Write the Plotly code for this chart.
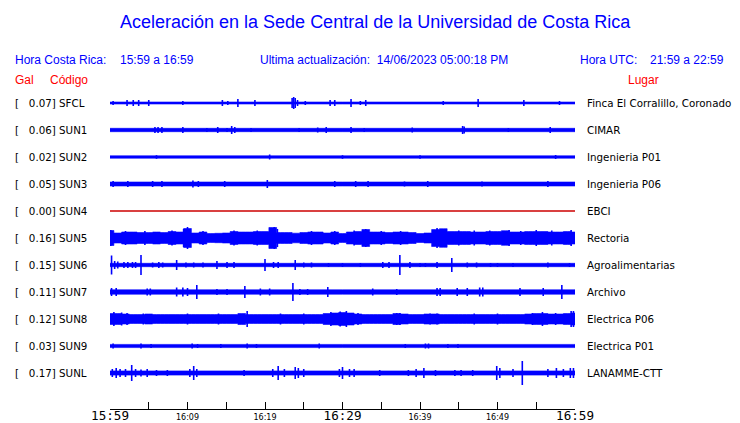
import plotly.graph_objects as go

# ---------------- data ----------------
STATIONS = ["SFCL", "SUN1", "SUN2", "SUN3", "SUN4", "SUN5",
            "SUN6", "SUN7", "SUN8", "SUN9", "SUNL"]
GAL = ["0.07", "0.06", "0.02", "0.05", "0.00", "0.16",
       "0.15", "0.11", "0.12", "0.03", "0.17"]
LUGAR = ["Finca El Corralillo, Coronado", "CIMAR", "Ingenieria P01",
         "Ingenieria P06", "EBCI", "Rectoria", "Agroalimentarias",
         "Archivo", "Electrica P06", "Electrica P01", "LANAMME-CTT"]

# minutes after 15:59 (0..60)
MINUTES = list(range(61))
TICK_MIN = list(range(0, 61, 5))
TICK_LABELS = ["15:59", "", "16:09", "", "16:19", "", "16:29",
               "", "16:39", "", "16:49", "", "16:59"]
BIG_LABELS = ["15:59", "16:29", "16:59"]

# background (noise) half-amplitude per station, relative counts
BASE_AMP = [1.0, 1.7, 1.2, 2.0, 0.0, None, 1.7, 2.2, None, 1.6, 2.1]

# per-minute envelope for the noisiest channels
ENV_SUN5 = [7.5, 5, 6, 6, 5.5, 5.5, 6, 5.5, 6.5, 6, 9.5, 5, 6, 4.5, 4.7, 5,
            6.5, 6, 6, 6.5, 6.5, 10.5, 5.5, 5.5, 4.8, 5.5, 6, 6, 5, 6, 4.5,
            6, 6.5, 8.5, 6, 6, 5.5, 6, 6, 5.5, 4.5, 5, 8.5, 9.3, 6.5, 6.5,
            6.5, 6, 6, 6.5, 6.5, 7.3, 6, 6, 6.5, 6.5, 6.5, 6, 6, 6.5, 6]
ENV_SUN8 = [5.5, 5.5, 5, 4.5, 4.5, 5, 4.5, 4.5, 4.5, 4.5, 4.5, 4.5, 4.5,
            4.5, 4.5, 4.5, 4.5, 5.5, 4.5, 4.5, 4.5, 4.5, 4.5, 4.5, 4.5, 4.5,
            4.5, 4.5, 5.5, 6, 6.5, 6, 5, 4.5, 4.5, 4.5, 4.5, 5.5, 5, 4.5,
            4.5, 5, 5, 4.5, 4.5, 4.5, 4.5, 4.5, 4.5, 4.5, 4.5, 4.5, 4.5,
            4.5, 5, 5.5, 5.5, 5, 5, 5.5, 6]

# spikes: (minute, half-amplitude)
SPK_SFCL = [(0.4, 2), (2.2, 3), (3.0, 3), (3.7, 3), (5.0, 3), (9.4, 2),
            (14.5, 3), (15.2, 2), (16.5, 4), (18.7, 3), (23.5, 5), (23.7, 6),
            (23.9, 5), (24.2, 3), (25.2, 2), (28.4, 3), (29.0, 3), (31.1, 4),
            (32.3, 2), (33.0, 3), (43.0, 2), (47.5, 4), (53.4, 3), (58.0, 2)]
SPK_SUN1 = [(5.8, 3), (6.2, 3), (6.7, 3), (9.4, 3), (12.5, 2), (13.9, 3),
            (15.1, 2), (15.7, 4), (16.1, 3), (18.2, 2), (24.4, 2), (26.8, 2.5),
            (27.9, 3), (31.1, 3), (32.8, 2), (39.0, 2.5), (45.5, 4),
            (45.7, 3.5), (51.4, 2), (56.8, 3)]
SPK_SUN2 = [(6.0, 1.8), (20.6, 2.5), (30.0, 1.8), (40.0, 1.8), (57.5, 2)]
SPK_SUN3 = [(0.4, 3), (2.3, 3), (5.5, 3), (6.7, 3), (10.7, 3.5), (11.4, 3),
            (14.8, 3), (20.3, 4), (29.0, 3), (31.7, 3), (33.3, 3), (38.0, 2.5),
            (41.0, 3), (48.0, 2.5), (56.5, 3)]
SPK_SUN4 = []
SPK_SUN5 = [(0.1, 8), (2.0, 7), (4.5, 7), (8.0, 7.5), (9.5, 9), (10.0, 11),
            (12.0, 7), (16.0, 7.5), (19.0, 7.5), (21.2, 11), (21.6, 9),
            (26.0, 7), (29.0, 7), (31.5, 7.5), (33.0, 9), (35.0, 7),
            (37.5, 7), (42.2, 10), (43.2, 9), (45.0, 7.5), (47.0, 7.5),
            (49.0, 7.5), (51.5, 8), (53.0, 7), (55.0, 8), (57.0, 7.5),
            (59.5, 8)]
SPK_SUN6 = [(0.2, 9.5), (0.6, 4), (1.0, 3.5), (1.8, 3), (2.3, 3), (2.9, 3),
            (3.3, 3), (4.0, 10), (5.5, 2.5), (6.3, 3), (6.8, 2.5), (8.6, 5),
            (9.8, 2.5), (10.8, 2.5), (12.0, 2.5), (13.8, 4), (15.1, 3),
            (16.0, 3), (20.0, 6), (21.1, 3), (21.7, 3), (23.9, 5), (25.0, 2.5),
            (26.0, 2.5), (28.2, 2), (30.0, 2), (32.3, 2), (35.2, 3), (36.0, 3),
            (37.4, 10), (38.7, 3), (40.0, 2), (40.7, 2), (42.2, 3), (44.1, 7),
            (46.1, 2.5), (47.3, 2.5), (49.1, 2), (50.0, 2), (52.0, 2),
            (56.5, 2.5), (59.3, 2)]
SPK_SUN7 = [(0.2, 4), (0.8, 4), (4.8, 3.5), (5.2, 3.5), (8.6, 4.5),
            (9.4, 4.5), (10.0, 4), (11.2, 7), (13.8, 3), (15.1, 3), (17.4, 6),
            (19.4, 3.5), (20.6, 3.5), (23.6, 9), (24.5, 3), (25.5, 3),
            (28.1, 5), (33.9, 3.5), (37.0, 3), (42.2, 4), (42.6, 4), (44.8, 4),
            (46.1, 4), (47.7, 4.5), (48.1, 4.5), (52.9, 4), (55.9, 4),
            (58.3, 7)]
SPK_SUN8 = [(0.5, 7), (1.5, 6.5), (2.2, 6), (4.3, 5.5), (10.0, 5.5),
            (14.0, 5.5), (17.7, 8), (22.0, 5.5), (25.0, 5.5), (28.5, 7),
            (29.7, 7.5), (30.5, 8), (32.0, 6), (37.0, 6), (37.4, 6),
            (41.3, 5.5), (42.2, 5.5), (47.0, 5.5), (50.0, 5.5), (54.5, 6),
            (55.8, 7), (57.5, 6), (59.5, 8), (59.8, 8)]
SPK_SUN9 = [(0.4, 2.5), (4.0, 2.5), (5.3, 2), (10.6, 2.5), (11.3, 2),
            (14.3, 2), (17.7, 2.5), (18.9, 2), (27.0, 2.5), (38.1, 2),
            (40.7, 2.5), (41.1, 2.5), (43.6, 2), (44.9, 2)]
SPK_SUNL = [(0.3, 4), (0.8, 5), (1.3, 4), (2.0, 4), (2.8, 8), (3.3, 4),
            (4.0, 3.5), (4.8, 4), (6.0, 3), (7.4, 3), (10.3, 4), (10.8, 7),
            (11.2, 4), (17.3, 3), (21.0, 4), (21.7, 7), (22.5, 4), (23.9, 6),
            (24.3, 5), (25.0, 4), (29.6, 4), (30.0, 6), (30.9, 4), (31.5, 4),
            (34.8, 3), (38.5, 3), (39.5, 4), (40.5, 5), (42.0, 3), (44.5, 3),
            (45.3, 3), (46.8, 3), (49.9, 7), (50.3, 5), (52.0, 4), (53.2, 12),
            (56.5, 4), (57.6, 5), (58.5, 4), (59.4, 5), (59.8, 5)]

ENVS = [None, None, None, None, None, ENV_SUN5, None, None, ENV_SUN8, None, None]
SPIKES = [SPK_SFCL, SPK_SUN1, SPK_SUN2, SPK_SUN3, SPK_SUN4, SPK_SUN5,
          SPK_SUN6, SPK_SUN7, SPK_SUN8, SPK_SUN9, SPK_SUNL]

# ---------------- drawing ----------------
BLUE = "#0000ff"
RED = "#ff0000"
AMP_SCALE = 1.0 / 27.0   # row units per count

fig = go.Figure()

for i, sta in enumerate(STATIONS):
    c = -i
    env = ENVS[i]
    if env is None:
        b = BASE_AMP[i]
        t = [MINUTES[0], MINUTES[-1]]
        env = [b, b]
    else:
        t = MINUTES
    if sta == "SUN4":
        fig.add_trace(go.Scatter(x=t, y=[c, c], mode="lines",
                                 line=dict(color="#cc0000", width=1.3),
                                 hoverinfo="skip", showlegend=False))
        continue
    up = [c + a * AMP_SCALE for a in env]
    lo = [c - a * AMP_SCALE for a in env]
    fig.add_trace(go.Scatter(x=t + t[::-1], y=up + lo[::-1], mode="lines",
                             fill="toself", fillcolor=BLUE,
                             line=dict(color=BLUE, width=0.6, shape="hvh"),
                             hoverinfo="skip", showlegend=False))
    xs, ys = [], []
    for (tm, a) in SPIKES[i]:
        xs += [tm, tm, None]
        ys += [c + a * AMP_SCALE, c - a * AMP_SCALE, None]
    if xs:
        fig.add_trace(go.Scatter(x=xs, y=ys, mode="lines",
                                 line=dict(color=BLUE, width=1.6),
                                 hoverinfo="skip", showlegend=False))

W, H = 740, 423
L, R, T, B = 110, 575, 90, 409


def px(x):
    return (x - L) / (R - L)


def py(y):
    return (B - y) / (B - T)


ann = []
HF = "Liberation Sans, Arial, sans-serif"
LF = "DejaVu Sans, sans-serif"


def txt(x, y, s, color, size, font=HF, anchor="left"):
    ann.append(dict(x=px(x), y=py(y), xref="paper", yref="paper", text=s,
                    showarrow=False, xanchor=anchor, yanchor="middle",
                    borderpad=0, borderwidth=0,
                    font=dict(family=font, size=size, color=color)))


txt(375, 22, "Aceleración en la Sede Central de la Universidad de Costa Rica",
    BLUE, 18, anchor="center")
txt(15, 60, "Hora Costa Rica:", BLUE, 12)
txt(120, 60, "15:59 a 16:59", BLUE, 12)
txt(260, 60, "Ultima actualización:\u00a0\u00a014/06/2023 05:00:18 PM", BLUE, 12)
txt(580, 60, "Hora UTC:", BLUE, 12)
txt(650, 60, "21:59 a 22:59", BLUE, 12)
txt(15, 80, "Gal", RED, 12)
txt(50, 80, "Código", RED, 12)
txt(643, 80, "Lugar", RED, 12, anchor="center")

for i, sta in enumerate(STATIONS):
    ann.append(dict(x=px(15), y=-i, xref="paper", yref="y",
                    text="[\u00a0\u00a0\u00a0" + GAL[i] + "] " + sta,
                    showarrow=False, xanchor="left", yanchor="middle",
                    borderpad=0, borderwidth=0,
                    font=dict(family=LF, size=10.3, color="black")))
    ann.append(dict(x=px(587), y=-i, xref="paper", yref="y",
                    text=LUGAR[i], showarrow=False, xanchor="left",
                    yanchor="middle", borderpad=0, borderwidth=0,
                    font=dict(family=LF, size=10.3, color="black")))

ticktext = []
for lab in TICK_LABELS:
    if lab in BIG_LABELS:
        ticktext.append('<span style="font-family:DejaVu Sans Mono;'
                        'font-size:12.6px">' + lab + '</span>')
    else:
        ticktext.append(lab)

y_top = (B - T) / 27.0 - (B - 103) / 27.0
y_bot = -(B - 103) / 27.0

fig.update_layout(
    width=W, height=H, template="none",
    margin=dict(l=L, r=W - R, t=T, b=H - B, pad=0),
    paper_bgcolor="white", plot_bgcolor="white",
    showlegend=False, annotations=ann,
    xaxis=dict(range=[0, 60], tickvals=TICK_MIN, ticktext=ticktext,
               ticks="inside", ticklen=7, tickcolor="black", tickwidth=1,
               showline=True, linecolor="black", linewidth=1,
               showgrid=False, zeroline=False, automargin=False,
               tickfont=dict(family=LF, size=8, color="black")),
    yaxis=dict(range=[y_bot, y_top], visible=False, showgrid=False,
               zeroline=False, automargin=False),
)

fig.write_html("out.html",
               config={"displayModeBar": False},
               post_script="document.body.style.margin='0px';"
                           "document.body.style.overflow='hidden';")
